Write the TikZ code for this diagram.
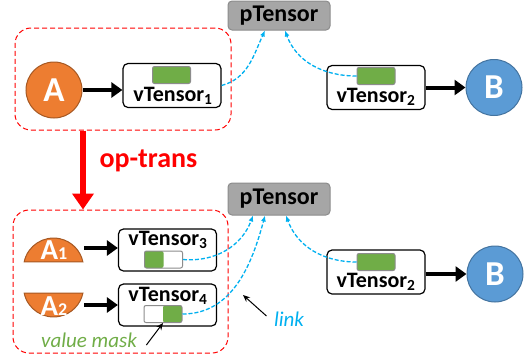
\documentclass[tikz,border=0pt]{standalone}
\usepackage{fontspec}
\setmainfont{Carlito}
\usetikzlibrary{arrows.meta}

\definecolor{aorange}{HTML}{ED7D31}
\definecolor{bblue}{HTML}{5B9BD5}
\definecolor{maskgreen}{HTML}{70AD47}
\definecolor{linkblue}{HTML}{00B0F0}

\tikzset{
  vbox/.style={draw, line width=1.2pt, rounded corners=5pt, fill=white,
    minimum width=98pt, minimum height=44pt},
  vlabel/.style={anchor=base, inner sep=0pt, font=\fontsize{22}{25}\selectfont\bfseries},
  pbox/.style={draw=black!45, fill=black!35, line width=1pt, rounded corners=4pt,
    minimum width=102pt, font=\fontsize{24}{27}\selectfont\bfseries},
  bar/.style={draw=black!45, line width=1pt, fill=maskgreen, rounded corners=2pt,
    minimum width=38pt, minimum height=17pt, inner sep=0pt},
  ball/.style={circle, minimum size=56pt, inner sep=0pt, line width=1pt, text=white,
    font=\fontsize{35}{35}\selectfont\bfseries},
  half/.style={fill=aorange, draw=aorange!70!black, line width=1pt},
  feed/.style={line width=4pt, -{Triangle[length=11pt,width=15pt]}},
  link/.style={linkblue, line width=1.3pt, dash pattern=on 4pt off 2pt,
    -{Latex[length=6pt,width=5pt]}},
  group/.style={draw=red, dash pattern=on 5pt off 3pt, line width=1pt, rounded corners=16pt},
  pointer/.style={line width=1pt, -{Stealth[length=7pt,width=6pt]}}
}

\begin{document}
\begin{tikzpicture}[x=1pt, y=-1pt]
  \useasboundingbox (0,0) rectangle (529,362);

  % before op-trans
  \node[group, minimum width=216pt, minimum height=102pt] (g1) at (123,79) {};
  \node[pbox, minimum height=29pt] (pt1) at (279,15.5) {pTensor};
  \node[ball, fill=aorange, draw=aorange!70!black] (a) at (54,90) {A};
  \node[vbox] (vt1) at (172,85.5) {};
  \node[vlabel] (vt1l) at (173,101) {vTensor\textsubscript{1}};
  \node[bar] (m1) at (171.5,75) {};
  \node[vbox] (vt2) at (376,87.5) {};
  \node[vlabel] (vt2l) at (376,102) {vTensor\textsubscript{2}};
  \node[bar] (m2) at (376,76) {};
  \node[ball, fill=bblue, draw=bblue!75!black] (b) at (494,87.5) {B};

  \draw[feed] (a.east) -- (a.east -| vt1.west);
  \draw[feed] (vt2.east) -- (b.west);
  \draw[link] (vt1.east) to[out=15, in=-115] ([xshift=-14pt]pt1.south);
  \draw[link] (m2.west) to[out=180, in=-70] ([xshift=6pt]pt1.south);

  % op-trans
  \node[group, minimum width=215pt, minimum height=143pt] (g2) at (120.5,281.5) {};
  \draw[red, line width=6pt, -{Triangle[length=16pt,width=21pt]}]
    ([xshift=-40pt]g1.south) -- ([xshift=-40pt]g1.south |- g2.north);
  \node[text=red, font=\fontsize{28}{30}\selectfont\bfseries, anchor=base west] (op)
    at (96,167) {op-trans};

  % after op-trans
  \node[pbox, minimum height=32pt] (pt2) at (279,199) {pTensor};
  \fill[half] (24.2,261.8) arc[start angle=168, end angle=12, radius=30pt] -- cycle;
  \fill[half] (24.2,293.2) arc[start angle=192, end angle=348, radius=30pt] -- cycle;
  \node[text=white, font=\bfseries, anchor=base, inner sep=0pt] (a1) at (54,259)
    {\fontsize{29}{29}\selectfont A\fontsize{18}{18}\selectfont 1};
  \node[text=white, font=\bfseries, anchor=base, inner sep=0pt] (a2) at (54,315)
    {\fontsize{29}{29}\selectfont A\fontsize{18}{18}\selectfont 2};
  \coordinate (a1r) at (84,248);
  \coordinate (a2r) at (84,305);

  \node[vbox, minimum height=42pt] (vt3) at (167.5,250) {};
  \node[vlabel] (vt3l) at (168,245) {vTensor\textsubscript{3}};
  \node[bar, fill=white, path picture={\fill[maskgreen]
    (path picture bounding box.north west) rectangle (path picture bounding box.south);}]
    (m3) at (163.5,259.5) {};
  \node[vbox, minimum height=42pt] (vt4) at (167.5,305) {};
  \node[vlabel] (vt4l) at (168,301) {vTensor\textsubscript{4}};
  \node[bar, fill=white, path picture={\fill[maskgreen]
    (path picture bounding box.north) rectangle (path picture bounding box.south east);}]
    (m4) at (163,314) {};

  \node[vbox] (vt5) at (376,272) {};
  \node[vlabel] (vt5l) at (376,287) {vTensor\textsubscript{2}};
  \node[bar] (m5) at (376,262) {};
  \node[ball, fill=bblue, draw=bblue!75!black] (b2) at (495,274) {B};

  \draw[feed] (a1r) -- (a1r -| vt3.west);
  \draw[feed] (a2r) -- (a2r -| vt4.west);
  \draw[feed] (vt5.east |- b2) -- (b2.west);
  \draw[link] (m3.east) to[out=-5, in=-110] ([xshift=-26pt]pt2.south);
  \draw[link] (m4.east) to[out=0, in=-105] ([xshift=-14pt]pt2.south);
  \draw[link] (m5.west) to[out=180, in=-70] ([xshift=7pt]pt2.south);

  % callouts
  \node[text=maskgreen, font=\fontsize{21}{24}\selectfont\itshape] (vmask) at (89,340) {value mask};
  \draw[pointer] ([xshift=6pt,yshift=-5pt]vmask.east) -- (m4.south);
  \node[text=linkblue, font=\fontsize{21}{24}\selectfont\itshape] (lk) at (289,319) {link};
  \coordinate (lkpt) at (243,295);
  \draw[pointer] ([xshift=-4pt,yshift=3pt]lk.west) -- (lkpt);
\end{tikzpicture}
\end{document}
